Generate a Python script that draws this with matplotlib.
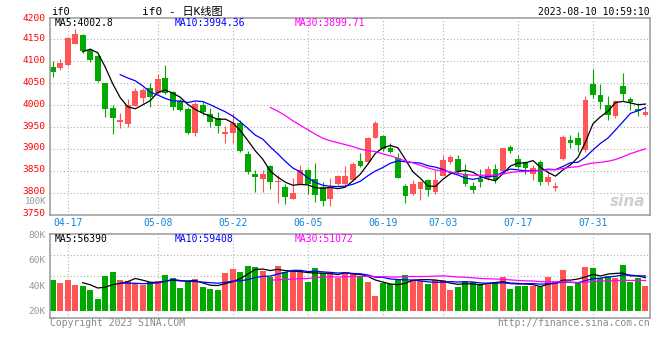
import matplotlib
matplotlib.use("Agg")
import matplotlib.pyplot as plt
import matplotlib.transforms as mtransforms
import numpy as np
import pandas as pd

# if0 日K, 从 2023-04-13 开始, 每根K线一个值
opens = [4088, 4084, 4091, 4140, 4160, 4126, 4112, 4050, 3993, 3962,
         3957, 3999, 4017, 4038, 4027, 4062, 4030, 4010, 3992, 3936,
         4000, 3980, 3970, 3934, 3937, 3958, 3888, 3843, 3831, 3861,
         3824, 3812, 3786, 3820, 3852, 3831, 3814, 3786, 3820, 3820,
         3828, 3872, 3871, 3926, 3929, 3903, 3879, 3815, 3797, 3808,
         3829, 3802, 3838, 3869, 3877, 3842, 3815, 3832, 3833, 3854,
         3850, 3905, 3877, 3871, 3843, 3871, 3825, 3810, 3877, 3920,
         3926, 3898, 4048, 4023, 4000, 3976, 4044, 4014, 3991, 3978]
closes = [4076, 4095, 4153, 4162, 4124, 4104, 4055, 3990, 3970, 3966,
          4000, 4032, 4035, 4018, 4060, 4027, 3996, 3989, 3936, 4002,
          3985, 3961, 3953, 3939, 3960, 3896, 3848, 3835, 3843, 3825,
          3826, 3791, 3800, 3852, 3820, 3795, 3782, 3812, 3837, 3837,
          3866, 3860, 3926, 3960, 3900, 3893, 3834, 3793, 3819, 3825,
          3806, 3828, 3875, 3882, 3850, 3820, 3807, 3825, 3855, 3829,
          3901, 3895, 3858, 3857, 3856, 3825, 3836, 3815, 3928, 3914,
          3910, 4012, 4023, 4008, 3977, 4009, 4025, 4006, 3987, 3985]
highs = [4100, 4105, 4155, 4174, 4162, 4130, 4115, 4051, 4000, 3982,
         4014, 4040, 4040, 4050, 4071, 4092, 4033, 4014, 3995, 4007,
         4007, 3993, 3985, 3952, 3983, 3965, 3896, 3852, 3852, 3863,
         3840, 3820, 3834, 3863, 3854, 3867, 3825, 3833, 3840, 3860,
         3870, 3890, 3928, 3963, 3932, 3913, 3890, 3820, 3828, 3827,
         3831, 3852, 3886, 3886, 3886, 3865, 3825, 3854, 3862, 3865,
         3903, 3909, 3886, 3873, 3863, 3875, 3850, 3825, 3932, 3931,
         3939, 4020, 4082, 4048, 4020, 4012, 4073, 4019, 4004, 3995]
lows = [4065, 4080, 4089, 4139, 4120, 4098, 4053, 3972, 3935, 3948,
        3950, 3997, 4004, 3996, 4025, 4025, 3989, 3986, 3934, 3930,
        3978, 3950, 3936, 3914, 3914, 3893, 3843, 3802, 3801, 3808,
        3777, 3774, 3785, 3819, 3796, 3779, 3769, 3770, 3818, 3817,
        3826, 3858, 3869, 3924, 3896, 3890, 3833, 3777, 3795, 3783,
        3793, 3797, 3837, 3866, 3844, 3816, 3800, 3814, 3829, 3823,
        3848, 3891, 3856, 3843, 3829, 3818, 3818, 3805, 3875, 3903,
        3893, 3894, 4017, 3990, 3967, 3971, 4010, 3989, 3975, 3975]
# 成交量, 按图中左侧 20K-80K 刻度读取 (K)
volumes = [44.1, 42.0, 44.1, 40.2, 39.4, 36.2, 29.2, 47.2, 50.4, 44.1,
           43.3, 41.5, 40.5, 42.4, 43.3, 48.0, 45.8, 37.6, 42.2, 44.9,
           38.4, 37.0, 36.2, 49.7, 52.7, 50.3, 55.1, 54.0, 51.5, 46.7,
           55.1, 50.0, 52.0, 50.0, 42.6, 53.4, 49.4, 50.5, 46.0, 49.9,
           48.6, 47.5, 42.8, 31.8, 41.8, 40.8, 45.2, 48.0, 44.1, 43.5,
           41.0, 43.8, 43.8, 36.2, 38.8, 43.4, 42.6, 40.6, 42.1, 42.1,
           46.4, 37.0, 39.7, 39.7, 39.7, 38.4, 46.6, 43.6, 51.9, 39.6,
           42.8, 54.6, 53.8, 45.4, 47.2, 45.4, 55.9, 42.8, 45.9, 39.6]

date_labels = ['04-17', '05-08', '05-22', '06-05', '06-19', '07-03', '07-17', '07-31']
date_idx = [2, 14, 24, 34, 44, 52, 62, 72]
price_ticks = [3750, 3800, 3850, 3900, 3950, 4000, 4050, 4100, 4150, 4200]
vol_ticks = [20, 40, 60, 80]

price_ma_text = ['MA5:4002.8', 'MA10:3994.36', 'MA30:3899.71']
vol_ma_text = ['MA5:56390', 'MA10:59408', 'MA30:51072']

RED = '#ff5555'
GREEN = '#00a800'
MA_COLORS = ['black', '#0000ff', '#ff00ff']
MONO = 'DejaVu Sans Mono'
FS = 7

plt.rcParams['font.family'] = [MONO, 'Noto Sans CJK SC']

df = pd.DataFrame({'open': opens, 'close': closes, 'high': highs, 'low': lows, 'vol': volumes})
x = np.arange(len(df))
cols = [RED if c >= o else GREEN for o, c in zip(df['open'], df['close'])]

fig = plt.figure(figsize=(6.6, 3.6), dpi=100)
W, H = 660, 360


def px(xp, yp):
    return xp / W, 1 - yp / H


ax = fig.add_axes([50 / W, 1 - 214.6 / H, 600 / W, (214.6 - 17.5) / H])
axv = fig.add_axes([50 / W, 1 - 317.7 / H, 600 / W, (317.7 - 234.3) / H])

for a in (ax, axv):
    a.set_xlim(-0.36, 79.6)
    for s in a.spines.values():
        s.set_color('#999999')
        s.set_linewidth(1.1)
    a.tick_params(length=0, labelsize=FS)
    for xi in date_idx:
        a.axvline(xi, color='#b0b0b0', ls=(0, (1, 2)), lw=0.8, zorder=0)

# 价格面板
ax.set_ylim(3750, 4200)
for p in price_ticks[1:-1]:
    ax.axhline(p, color='#b0b0b0', ls=(0, (1, 2)), lw=0.8, zorder=0)

ax.vlines(x, df['low'], df['high'], colors=cols, lw=0.8, zorder=2)
body = np.maximum(np.abs(df['close'] - df['open']), 1.5)
ax.bar(x, body, bottom=np.minimum(df['open'], df['close']), width=0.76,
       color=cols, zorder=2)

for n, c in zip([5, 10, 30], MA_COLORS):
    ax.plot(x, df['close'].rolling(n).mean(), color=c, lw=0.9, zorder=3)

ax.set_yticks(price_ticks)
ax.set_yticklabels([str(p) for p in price_ticks], color='red')
ax.tick_params(axis='y', pad=3, labelsize=6.8)
# 价格标签略高于网格线
up = mtransforms.ScaledTranslation(0, 2 / 100, fig.dpi_scale_trans)
for lab in ax.get_yticklabels()[:-1]:
    lab.set_transform(lab.get_transform() + up)
ax.set_xticks(date_idx)
ax.set_xticklabels(date_labels, color='#1283d5')
ax.tick_params(axis='x', pad=2.5)

# 成交量面板
lo, hi = 14.5, 80
axv.set_ylim(lo, hi)
for f in (0.25, 0.5, 0.75):
    axv.axhline(lo + f * (hi - lo), color='#b0b0b0', ls=(0, (1, 2)), lw=0.8, zorder=0)
axv.bar(x, df['vol'] - 20, bottom=20, width=0.8, color=cols, zorder=2)
for n, c in zip([5, 10, 30], MA_COLORS):
    axv.plot(x, df['vol'].rolling(n).mean(), color=c, lw=0.9, zorder=3)
axv.set_yticks(vol_ticks)
axv.set_yticklabels([f'{v}K' for v in vol_ticks], color='#999999')
axv.tick_params(axis='y', pad=3, labelsize=6.8)
axv.set_xticks([])

# 文字
for txt, c, xp in zip(price_ma_text, MA_COLORS, [55, 175, 295]):
    fig.text(*px(xp, 22.5), txt, color=c, fontsize=FS, va='center', ha='left')
for txt, c, xp in zip(vol_ma_text, MA_COLORS, [55, 175, 295]):
    fig.text(*px(xp, 238.5), txt, color=c, fontsize=FS, va='center', ha='left')

fig.text(*px(51, 12), 'if0', fontsize=FS + 0.5, va='center', ha='left')
fig.text(*px(142, 12), 'if0 - 日K线图', fontsize=FS + 1, va='center', ha='left')
fig.text(*px(650, 12), '2023-08-10 10:59:10', fontsize=FS, va='center', ha='right')
fig.text(*px(46, 201), '100K', fontsize=6.5, color='#999999', va='center', ha='right')
fig.text(*px(50, 323), 'Copyright 2023 SINA.COM', fontsize=FS, color='#888888',
         va='center', ha='left')
fig.text(*px(650, 323.5), 'http://finance.sina.com.cn', fontsize=FS, color='#888888',
         va='center', ha='right')
fig.text(*px(628, 202), 'sina', fontsize=11, color='#cfcfcf', fontweight='bold',
         style='italic', va='center', ha='center', family='DejaVu Sans')

fig.savefig('out.png', dpi=100, facecolor='white')
